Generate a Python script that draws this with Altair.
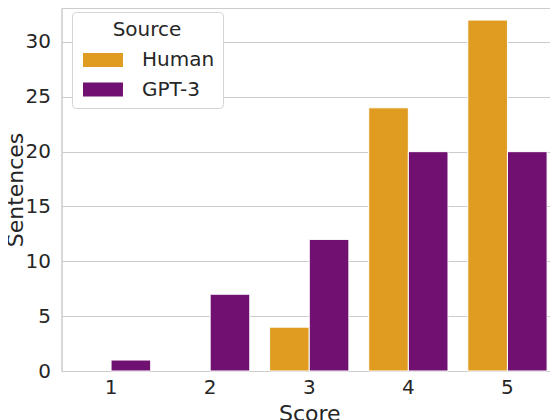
import pandas as pd
import altair as alt

# Score counts per source
scores = ['1', '2', '3', '4', '5']
human = [0, 0, 4, 24, 32]
gpt3 = [1, 7, 12, 20, 20]
sources = ['Human', 'GPT-3']
colors = ['#DF9C20', '#701070']

FONT = 'DejaVu Sans'
INK = '#262626'
GRID = '#cccccc'


def build_frame() -> pd.DataFrame:
    rows = []
    for s, h, g in zip(scores, human, gpt3):
        rows.append({'Score': s, 'Source': 'Human', 'Sentences': h})
        rows.append({'Score': s, 'Source': 'GPT-3', 'Sentences': g})
    return pd.DataFrame(rows)


def make_chart(df: pd.DataFrame) -> alt.Chart:
    bars = alt.Chart(df).transform_filter(
        alt.datum.Sentences > 0
    ).mark_bar(stroke='white', strokeWidth=1).encode(
        x=alt.X('Score:N', title='Score', sort=scores,
                scale=alt.Scale(paddingInner=0.2, paddingOuter=0.1),
                axis=alt.Axis(labelAngle=0, ticks=False, grid=False,
                              labelPadding=6, titlePadding=6)),
        xOffset=alt.XOffset('Source:N', sort=sources,
                            scale=alt.Scale(paddingInner=0, paddingOuter=0)),
        y=alt.Y('Sentences:Q', title='Sentences',
                scale=alt.Scale(domain=[0, 33.1], nice=False),
                axis=alt.Axis(values=[0, 5, 10, 15, 20, 25, 30], ticks=False,
                              labelPadding=11, titlePadding=-2)),
        color=alt.Color('Source:N', sort=sources,
                        scale=alt.Scale(domain=sources, range=colors),
                        legend=alt.Legend(
                            title='Source', orient='none', legendX=10.5, legendY=4,
                            titleAnchor='middle', titleFontSize=20, titleFontWeight='normal',
                            titleColor=INK, titleFont=FONT, titlePadding=10,
                            labelFontSize=20, labelColor=INK, labelFont=FONT, labelOffset=42,
                            # wide swatch: nominal size 14px, path drawn 40px wide
                            symbolType='M-1,-1L4.71,-1L4.71,1L-1,1Z', symbolSize=196,
                            symbolStrokeWidth=0, rowPadding=9.5,
                            padding=8, fillColor='white', strokeColor='#d4d4d4',
                            cornerRadius=4)),
    ).properties(
        width=495.5, height=363,
        autosize=alt.AutoSizeParams(type='none'),
        padding={'left': 53.5, 'top': 0, 'right': -7, 'bottom': 49},
    ).configure_view(
        stroke=GRID, strokeWidth=1
    ).configure_axis(
        labelFont=FONT, titleFont=FONT, labelFontSize=20, titleFontSize=22,
        labelColor=INK, titleColor=INK, titleFontWeight='normal',
        domainColor=GRID, gridColor=GRID, gridWidth=1
    )
    return bars


if __name__ == '__main__':
    chart = make_chart(build_frame())
    chart.save('out.html', embed_options={'renderer': 'svg', 'actions': False})
